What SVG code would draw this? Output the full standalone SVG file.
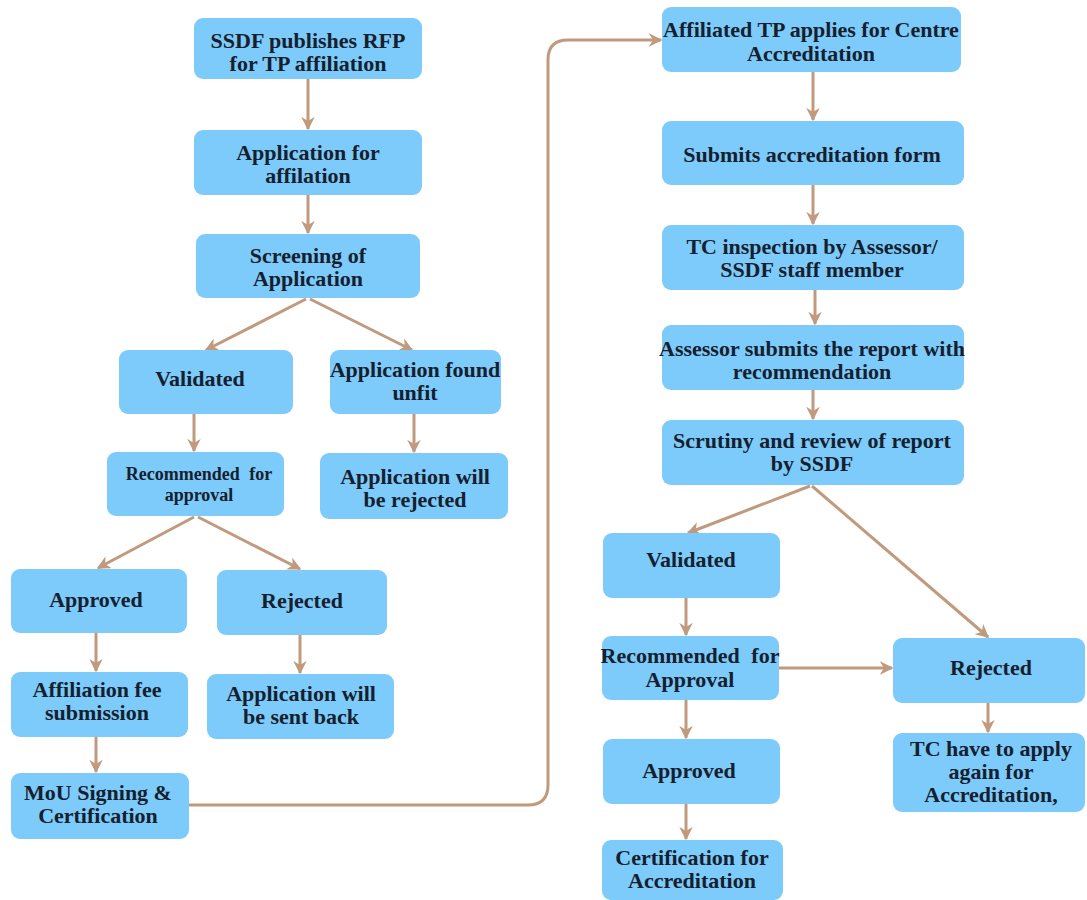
<svg xmlns="http://www.w3.org/2000/svg" width="1087" height="900" viewBox="0 0 1087 900">
<style>
.box{fill:#7DCBFA;}
.t{font-family:'Liberation Serif','Times New Roman','DejaVu Serif',serif;font-weight:bold;font-size:22px;fill:#15202E;text-anchor:middle;}
.s{font-size:18px;word-spacing:5px;}
.w{word-spacing:6px;}
.c{fill:none;stroke:#C19A7E;stroke-width:3;}
</style>
<defs>
<marker id="ah" viewBox="0 0 10 10" refX="9" refY="5" markerWidth="4.5" markerHeight="4.5" orient="auto" markerUnits="strokeWidth">
<path d="M0,0 L10,5 L0,10 L3,5 z" fill="#C19A7E"/>
</marker>
</defs>
<rect width="1087" height="900" fill="#FFFFFF"/>
<g id="connectors">
<path class="c" marker-end="url(#ah)" d="M308,79 V129"/>
<path class="c" marker-end="url(#ah)" d="M308,195 V233"/>
<path class="c" marker-end="url(#ah)" d="M306,299 L206,350"/>
<path class="c" marker-end="url(#ah)" d="M310,299 L412,350"/>
<path class="c" marker-end="url(#ah)" d="M194,414 V451"/>
<path class="c" marker-end="url(#ah)" d="M414,414 V452"/>
<path class="c" marker-end="url(#ah)" d="M194,517 L98,568"/>
<path class="c" marker-end="url(#ah)" d="M198,517 L300,569"/>
<path class="c" marker-end="url(#ah)" d="M96,633 V671"/>
<path class="c" marker-end="url(#ah)" d="M300,635 V673"/>
<path class="c" marker-end="url(#ah)" d="M96,737 V772"/>
<path class="c" stroke-width="2" marker-end="url(#ah)" d="M189,805 H528 Q548,805 548,785 V60 Q548,40 568,40 H661"/>
<path class="c" marker-end="url(#ah)" d="M813,72 V120"/>
<path class="c" marker-end="url(#ah)" d="M813,185 V224"/>
<path class="c" marker-end="url(#ah)" d="M815,290 V324"/>
<path class="c" marker-end="url(#ah)" d="M813,390 V419"/>
<path class="c" marker-end="url(#ah)" d="M810,486 L688,533"/>
<path class="c" marker-end="url(#ah)" d="M812,486 L988,637"/>
<path class="c" marker-end="url(#ah)" d="M686,598 V635"/>
<path class="c" marker-end="url(#ah)" d="M779,668 H892"/>
<path class="c" marker-end="url(#ah)" d="M686,700 V738"/>
<path class="c" marker-end="url(#ah)" d="M686,804 V839"/>
<path class="c" marker-end="url(#ah)" d="M988,703 V732"/>
</g>
<g id="n1"><rect class="box" x="194" y="18" width="228" height="61" rx="9"/><text class="t" x="308" y="48">SSDF publishes RFP</text><text class="t" x="308" y="71">for TP affiliation</text></g>
<g id="n2"><rect class="box" x="194" y="130" width="228" height="65" rx="9"/><text class="t" x="308" y="160">Application for</text><text class="t" x="308" y="183">affilation</text></g>
<g id="n3"><rect class="box" x="196" y="234" width="224" height="64" rx="9"/><text class="t" x="308" y="263">Screening of</text><text class="t" x="308" y="286">Application</text></g>
<g id="n4"><rect class="box" x="119" y="350" width="174" height="64" rx="9"/><text class="t" x="200" y="386">Validated</text></g>
<g id="n5"><rect class="box" x="330" y="350" width="171" height="64" rx="9"/><text class="t" x="415" y="377">Application found</text><text class="t" x="415" y="400">unfit</text></g>
<g id="n6"><rect class="box" x="107" y="452" width="177" height="64" rx="9"/><text class="t s" x="199" y="480">Recommended for</text><text class="t s" x="199" y="501">approval</text></g>
<g id="n7"><rect class="box" x="320" y="453" width="188" height="66" rx="9"/><text class="t" x="415" y="484">Application will</text><text class="t" x="415" y="507">be rejected</text></g>
<g id="n8"><rect class="box" x="11" y="569" width="176" height="64" rx="9"/><text class="t" x="96" y="607">Approved</text></g>
<g id="n9"><rect class="box" x="217" y="570" width="170" height="65" rx="9"/><text class="t" x="302" y="608">Rejected</text></g>
<g id="n10"><rect class="box" x="11" y="672" width="177" height="65" rx="9"/><text class="t" x="97" y="697">Affiliation fee</text><text class="t" x="97" y="720">submission</text></g>
<g id="n11"><rect class="box" x="207" y="674" width="187" height="65" rx="9"/><text class="t" x="301" y="701">Application will</text><text class="t" x="301" y="724">be sent back</text></g>
<g id="n12"><rect class="box" x="11" y="773" width="178" height="66" rx="9"/><text class="t" x="98" y="800">MoU Signing &amp;</text><text class="t" x="98" y="823">Certification</text></g>
<g id="n13"><rect class="box" x="662" y="7" width="299" height="65" rx="9"/><text class="t" x="811" y="37">Affiliated TP applies for Centre</text><text class="t" x="811" y="61">Accreditation</text></g>
<g id="n14"><rect class="box" x="662" y="121" width="302" height="64" rx="9"/><text class="t" x="812" y="162">Submits accreditation form</text></g>
<g id="n15"><rect class="box" x="662" y="225" width="302" height="65" rx="9"/><text class="t" x="812" y="254">TC inspection by Assessor/</text><text class="t" x="812" y="277">SSDF staff member</text></g>
<g id="n16"><rect class="box" x="662" y="325" width="302" height="65" rx="9"/><text class="t" x="812" y="356">Assessor submits the report with</text><text class="t" x="812" y="379">recommendation</text></g>
<g id="n17"><rect class="box" x="662" y="420" width="302" height="65" rx="9"/><text class="t" x="812" y="448">Scrutiny and review of report</text><text class="t" x="812" y="471">by SSDF</text></g>
<g id="n18"><rect class="box" x="603" y="533" width="177" height="65" rx="9"/><text class="t" x="691" y="567">Validated</text></g>
<g id="n19"><rect class="box" x="602" y="636" width="177" height="64" rx="9"/><text class="t w" x="690" y="663">Recommended for</text><text class="t" x="690" y="687">Approval</text></g>
<g id="n20"><rect class="box" x="893" y="638" width="192" height="65" rx="9"/><text class="t" x="991" y="675">Rejected</text></g>
<g id="n21"><rect class="box" x="893" y="733" width="192" height="79" rx="9"/><text class="t" x="991" y="756">TC have to apply</text><text class="t" x="991" y="779">again for</text><text class="t" x="991" y="802">Accreditation,</text></g>
<g id="n22"><rect class="box" x="603" y="739" width="177" height="65" rx="9"/><text class="t" x="689" y="778">Approved</text></g>
<g id="n23"><rect class="box" x="602" y="840" width="181" height="60" rx="9"/><text class="t" x="692" y="865">Certification for</text><text class="t" x="692" y="888">Accreditation</text></g>
</svg>
